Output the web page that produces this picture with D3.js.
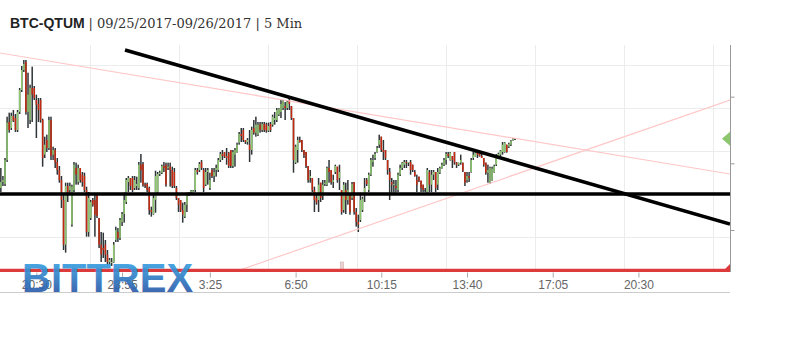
<!DOCTYPE html>
<html>
<head>
<meta charset="utf-8">
<script src="https://cdn.jsdelivr.net/npm/d3@7"></script>
<style>
  body { margin: 0; background: #fff; }
  svg { display: block; }
</style>
</head>
<body>
<svg id="chart" width="795" height="352"></svg>
<script>
// 5 minute candles, BTC-QTUM, prices in 1e-6 BTC
const candleStart = "2017-09-25 19:05";

const opens = [
  3263,3272,3269,3305,3362,3353,3371,3368,3350,3377,
  3410,3440,3452,3377,3365,3413,3413,3395,3389,3395,
  3365,3313,3335,3323,3365,3313,3320,3302,3290,3275,
  3245,3178,3266,3260,3208,3260,3293,3272,3293,3283,
  3281,3260,3197,3218,3245,3245,3253,3218,3178,3173,
  3178,3163,3152,3151,3152,3185,3197,3188,3212,3224,
  3242,3272,3278,3278,3263,3266,3263,3298,3299,3268,
  3269,3263,3230,3224,3245,3257,3284,3286,3296,3298,
  3293,3295,3290,3287,3263,3248,3245,3230,3220,3238,
  3253,3257,3257,3260,3290,3290,3302,3290,3268,3287,
  3263,3290,3281,3290,3290,3305,3314,3317,3311,3316,
  3320,3296,3313,3317,3331,3344,3350,3335,3332,3328,
  3320,3353,3346,3343,3358,3350,3359,3358,3349,3359,
  3358,3365,3365,3373,3377,3383,3386,3383,3395,3386,
  3368,3301,3320,3335,3335,3320,3317,3296,3278,3278,
  3260,3248,3245,3271,3251,3269,3268,3293,3290,3272,
  3287,3295,3278,3260,3230,3260,3245,3253,3248,3272,
  3227,3212,3215,3230,3253,3275,3260,3283,3302,3308,
  3317,3328,3340,3320,3320,3305,3287,3272,3268,3266,
  3260,3283,3293,3298,3302,3301,3302,3298,3287,3275,
  3280,3274,3268,3260,3257,3287,3268,3283,3287,3268,
  3286,3293,3298,3305,3314,3305,3311,3317,3301,3298,
  3301,3301,3287,3275,3281,3287,3308,3310,3316,3317,
  3311,3308,3301,3286,3271,3275,3287,3298,3310,3313,
  3317,3317,3328,3325,3328,3335,3337
];
const highs = [
  3293,3281,3308,3370,3376,3376,3380,3374,3380,3413,
  3446,3455,3455,3436,3418,3445,3416,3403,3398,3398,
  3367,3340,3343,3370,3370,3325,3323,3308,3296,3281,
  3253,3271,3271,3271,3268,3302,3301,3298,3293,3287,
  3286,3265,3257,3245,3248,3253,3253,3218,3197,3196,
  3185,3170,3158,3158,3182,3205,3203,3218,3227,3256,
  3278,3281,3278,3281,3281,3280,3302,3314,3302,3271,
  3271,3265,3235,3253,3289,3287,3289,3298,3302,3301,
  3301,3301,3295,3293,3266,3248,3245,3241,3242,3256,
  3257,3260,3260,3293,3293,3302,3305,3293,3293,3293,
  3286,3293,3293,3298,3308,3317,3320,3317,3323,3317,
  3320,3320,3323,3331,3347,3353,3353,3335,3338,3350,
  3355,3365,3370,3362,3362,3362,3362,3361,3361,3362,
  3373,3377,3383,3383,3395,3395,3392,3395,3398,3386,
  3368,3328,3340,3340,3335,3320,3317,3296,3290,3278,
  3265,3253,3278,3271,3275,3275,3295,3305,3290,3283,
  3298,3295,3298,3260,3272,3271,3275,3253,3272,3272,
  3233,3223,3256,3250,3278,3278,3286,3308,3313,3317,
  3326,3343,3340,3335,3320,3305,3293,3278,3275,3275,
  3286,3298,3302,3305,3305,3302,3305,3298,3290,3283,
  3280,3274,3268,3263,3293,3290,3290,3290,3287,3293,
  3295,3301,3308,3317,3317,3317,3311,3317,3302,3301,
  3313,3301,3287,3287,3287,3308,3317,3317,3316,3317,
  3314,3308,3301,3298,3295,3295,3298,3314,3316,3320,
  3332,3332,3328,3331,3335,3338,3338
];
const lows = [
  3257,3266,3266,3302,3346,3350,3362,3347,3347,3374,
  3407,3437,3373,3353,3359,3362,3395,3338,3362,3361,
  3295,3308,3317,3320,3305,3305,3293,3283,3271,3233,
  3170,3166,3242,3256,3205,3257,3268,3268,3271,3265,
  3257,3190,3190,3215,3235,3190,3218,3173,3152,3158,
  3152,3148,3148,3146,3151,3182,3182,3185,3206,3211,
  3239,3257,3260,3257,3260,3260,3260,3271,3265,3263,
  3257,3223,3220,3223,3226,3256,3281,3284,3287,3265,
  3290,3265,3263,3263,3245,3227,3227,3211,3218,3227,
  3251,3254,3256,3257,3283,3287,3290,3257,3266,3268,
  3260,3278,3272,3280,3287,3302,3305,3308,3298,3293,
  3293,3293,3295,3316,3328,3332,3332,3329,3328,3302,
  3313,3343,3340,3341,3346,3347,3347,3346,3347,3347,
  3355,3358,3362,3371,3368,3380,3365,3380,3380,3365,
  3286,3299,3301,3331,3317,3308,3293,3271,3271,3257,
  3227,3238,3227,3242,3245,3266,3266,3271,3268,3263,
  3284,3271,3260,3223,3226,3224,3238,3223,3245,3223,
  3205,3197,3212,3227,3242,3266,3257,3281,3295,3305,
  3316,3323,3317,3305,3305,3283,3245,3256,3256,3256,
  3257,3281,3290,3293,3293,3296,3283,3287,3280,3257,
  3272,3257,3257,3257,3256,3257,3257,3275,3257,3260,
  3284,3292,3296,3298,3308,3304,3293,3298,3293,3296,
  3298,3287,3266,3271,3272,3286,3305,3310,3308,3310,
  3308,3295,3283,3271,3269,3274,3286,3296,3308,3311,
  3313,3316,3316,3323,3326,3334,3335
];
const closes = [
  3272,3275,3305,3361,3350,3371,3364,3350,3377,3410,
  3440,3449,3377,3403,3413,3403,3398,3388,3380,3365,
  3308,3328,3323,3365,3311,3320,3301,3290,3275,3245,
  3178,3266,3253,3266,3265,3298,3283,3293,3275,3272,
  3260,3197,3248,3242,3238,3223,3221,3178,3163,3170,
  3163,3152,3155,3152,3178,3200,3188,3215,3224,3245,
  3275,3278,3266,3260,3275,3269,3298,3290,3268,3266,
  3260,3230,3227,3248,3281,3284,3286,3296,3293,3268,
  3295,3290,3266,3266,3248,3238,3230,3223,3238,3253,
  3256,3259,3259,3290,3287,3299,3293,3263,3287,3290,
  3275,3281,3287,3293,3305,3314,3311,3310,3308,3296,
  3296,3317,3320,3328,3344,3341,3335,3332,3335,3320,
  3350,3346,3358,3358,3350,3359,3350,3349,3356,3350,
  3370,3368,3380,3382,3389,3394,3383,3392,3389,3368,
  3305,3325,3335,3332,3320,3313,3296,3275,3281,3260,
  3245,3241,3268,3248,3268,3271,3293,3287,3272,3275,
  3296,3275,3287,3227,3268,3245,3260,3227,3269,3227,
  3212,3208,3245,3247,3263,3269,3283,3305,3305,3314,
  3323,3335,3320,3317,3308,3290,3275,3268,3269,3263,
  3283,3293,3301,3302,3301,3302,3290,3290,3281,3268,
  3274,3263,3260,3260,3290,3268,3283,3287,3263,3287,
  3293,3298,3305,3314,3311,3316,3305,3301,3298,3301,
  3305,3289,3271,3281,3278,3305,3313,3316,3313,3311,
  3308,3298,3286,3290,3293,3292,3296,3311,3314,3319,
  3328,3331,3317,3329,3334,3337,3337
];

const timeStart = "2017-09-25 19:03";
const timeEnd = "2017-09-27 00:09";
const tickTimes = ["2017-09-25 20:30","2017-09-25 23:55","2017-09-26 03:25","2017-09-26 06:50",
                   "2017-09-26 10:15","2017-09-26 13:40","2017-09-26 17:05","2017-09-26 20:30"];
const tickLabels = ["20:30","23:55","3:25","6:50","10:15","13:40","17:05","20:30"];
const gridTimes = ["2017-09-25 22:38","2017-09-26 02:11","2017-09-26 05:44","2017-09-26 09:17",
                   "2017-09-26 12:50","2017-09-26 16:23","2017-09-26 19:56","2017-09-26 23:29"];
const gridLevels = [3447.5, 3383, 3318.5, 3254, 3189.5];
const priceTicks = [3200, 3300, 3400];
const priceMin = 3137, priceMax = 3477.5;

// drawn studies
const supportLevel = 3254;
const resistance = [["2017-09-26 00:02", 3470], ["2017-09-27 00:09", 3209]];
const channelTop = [["2017-09-25 19:03", 3465.5], ["2017-09-27 00:09", 3284]];
const channelBottom = [["2017-09-26 04:23", 3137], ["2017-09-27 00:09", 3395]];
const volumeSpike = ["2017-09-26 08:41", 9];

const parse = d3.timeParse("%Y-%m-%d %H:%M");
const svg = d3.select("#chart");

const plot = {left: 0, right: 730, top: 45, bottom: 272};

const x = d3.scaleTime()
  .domain([parse(timeStart), parse(timeEnd)])
  .range([plot.left, plot.right]);
const y = d3.scaleLinear()
  .domain([priceMin, priceMax])
  .range([plot.bottom, plot.top]);
const vol = d3.scaleLinear().domain([0, 20]).range([plot.bottom - 1, plot.bottom - 21]);

const t0 = parse(candleStart);
const data = opens.map((o, i) => ({
  t: d3.timeMinute.offset(t0, 5 * i),
  o, h: highs[i], l: lows[i], c: closes[i]
}));

// title
const title = svg.append("text").attr("x", 10).attr("y", 28);
title.append("tspan").text("BTC-QTUM ")
  .style("font-family", "'Liberation Sans', Arial, sans-serif")
  .style("font-size", "14px")
  .style("font-weight", "bold").attr("fill", "#222");
title.append("tspan").text("| 09/25/2017-09/26/2017 | 5 Min")
  .style("font-family", "'DejaVu Serif', Georgia, serif")
  .style("font-size", "13px").attr("fill", "#333");

svg.append("defs").append("clipPath").attr("id", "plotclip")
  .append("rect")
  .attr("x", plot.left).attr("y", plot.top)
  .attr("width", plot.right - plot.left).attr("height", plot.bottom - plot.top);

const grad = svg.select("defs").append("linearGradient")
  .attr("id", "logoGrad").attr("x1", 0).attr("y1", 0).attr("x2", 0).attr("y2", 1);
grad.append("stop").attr("offset", "0%").attr("stop-color", "#3cb0ee");
grad.append("stop").attr("offset", "100%").attr("stop-color", "#2a4b9c");

// grid
const grid = svg.append("g");
grid.selectAll("line.v").data(gridTimes).join("line")
  .attr("x1", d => Math.round(x(parse(d))) + 0.5).attr("x2", d => Math.round(x(parse(d))) + 0.5)
  .attr("y1", plot.top).attr("y2", plot.bottom)
  .attr("stroke", "#ececec");
grid.selectAll("line.h").data(gridLevels).join("line")
  .attr("x1", plot.left).attr("x2", plot.right)
  .attr("y1", d => Math.round(y(d)) + 0.5).attr("y2", d => Math.round(y(d)) + 0.5)
  .attr("stroke", "#ececec");

const main = svg.append("g").attr("clip-path", "url(#plotclip)");

// volume
main.append("rect")
  .attr("x", x(parse(volumeSpike[0])) - 1.5).attr("width", 3)
  .attr("y", vol(volumeSpike[1])).attr("height", vol(0) - vol(volumeSpike[1]))
  .attr("fill", "#efd0d0").attr("stroke", "#c8b0b0").attr("stroke-width", 0.6);

// candles
const cw = 1.5;
main.append("g").selectAll("rect").data(data).join("rect")
  .attr("x", d => x(d.t) - cw / 2).attr("width", cw)
  .attr("y", d => y(d.h))
  .attr("height", d => Math.max(1, y(d.l) - y(d.h)))
  .attr("fill", "#2f3436");
main.append("g").selectAll("rect").data(data).join("rect")
  .attr("x", d => x(d.t) - cw / 2).attr("width", cw)
  .attr("y", d => y(Math.max(d.o, d.c)))
  .attr("height", d => Math.max(1, Math.abs(y(d.o) - y(d.c))))
  .attr("fill", d => d.c > d.o ? "#8cc66d" : d.c < d.o ? "#c4290f" : "#2f3436");

// trend lines
const pt = p => [x(parse(p[0])), y(p[1])];
const line = d3.line();
main.append("path").attr("d", line(channelTop.map(pt)))
  .attr("fill", "none").attr("stroke", "#ffc8c8").attr("stroke-width", 1.2);
main.append("path").attr("d", line(channelBottom.map(pt)))
  .attr("fill", "none").attr("stroke", "#ffc8c8").attr("stroke-width", 1.2);
main.append("line")
  .attr("x1", plot.left).attr("x2", plot.right)
  .attr("y1", y(supportLevel)).attr("y2", y(supportLevel))
  .attr("stroke", "#000").attr("stroke-width", 3.4);
main.append("path").attr("d", line(resistance.map(pt)))
  .attr("fill", "none").attr("stroke", "#000").attr("stroke-width", 3.6);

// volume baseline
main.append("line")
  .attr("x1", plot.left).attr("x2", plot.right)
  .attr("y1", plot.bottom - 1.5).attr("y2", plot.bottom - 1.5)
  .attr("stroke", "#dd3b3b").attr("stroke-width", 3.5);

// last price / last volume markers
const diamond = (cx, cy, rx, ry) => `M${cx - rx},${cy}L${cx},${cy - ry}L${cx + rx},${cy}L${cx},${cy + ry}Z`;
const last = data[data.length - 1];
main.append("path").attr("d", diamond(plot.right, y(last.c), 8, 7)).attr("fill", "#8cc66d");
main.append("path").attr("d", diamond(plot.right, plot.bottom, 8, 8)).attr("fill", "#dd3b3b");

// right axis
const yAxis = svg.append("g").attr("transform", `translate(${plot.right + 0.5},0)`)
  .call(d3.axisRight(y).tickValues(priceTicks).tickSize(4).tickFormat(""));
yAxis.select(".domain").attr("d", `M0,${plot.top}V${plot.bottom}`).attr("stroke", "#999");
yAxis.selectAll(".tick line").attr("stroke", "#999");

// bottom axis
const xAxis = svg.append("g").attr("transform", `translate(0,${plot.bottom + 0.5})`)
  .call(d3.axisBottom(x).tickValues(tickTimes.map(parse)).tickSize(5)
    .tickFormat((d, i) => tickLabels[i]));
xAxis.select(".domain").remove();
xAxis.selectAll(".tick line").attr("stroke", "#aaa");
xAxis.selectAll(".tick text").attr("y", 8).attr("dy", "0.71em")
  .style("font-family", "'Liberation Sans', Arial, sans-serif")
  .style("font-size", "12px").attr("fill", "#666");
svg.append("line").attr("x1", plot.left).attr("x2", plot.right)
  .attr("y1", 292.5).attr("y2", 292.5).attr("stroke", "#ccc");

// watermark
svg.append("text").attr("x", 22).attr("y", 292)
  .text("BITTREX")
  .style("font-family", "'Liberation Sans', Arial, sans-serif")
  .style("font-weight", "bold").style("font-size", "40px")
  .attr("fill", "url(#logoGrad)").attr("opacity", 0.92);
</script>
</body>
</html>
